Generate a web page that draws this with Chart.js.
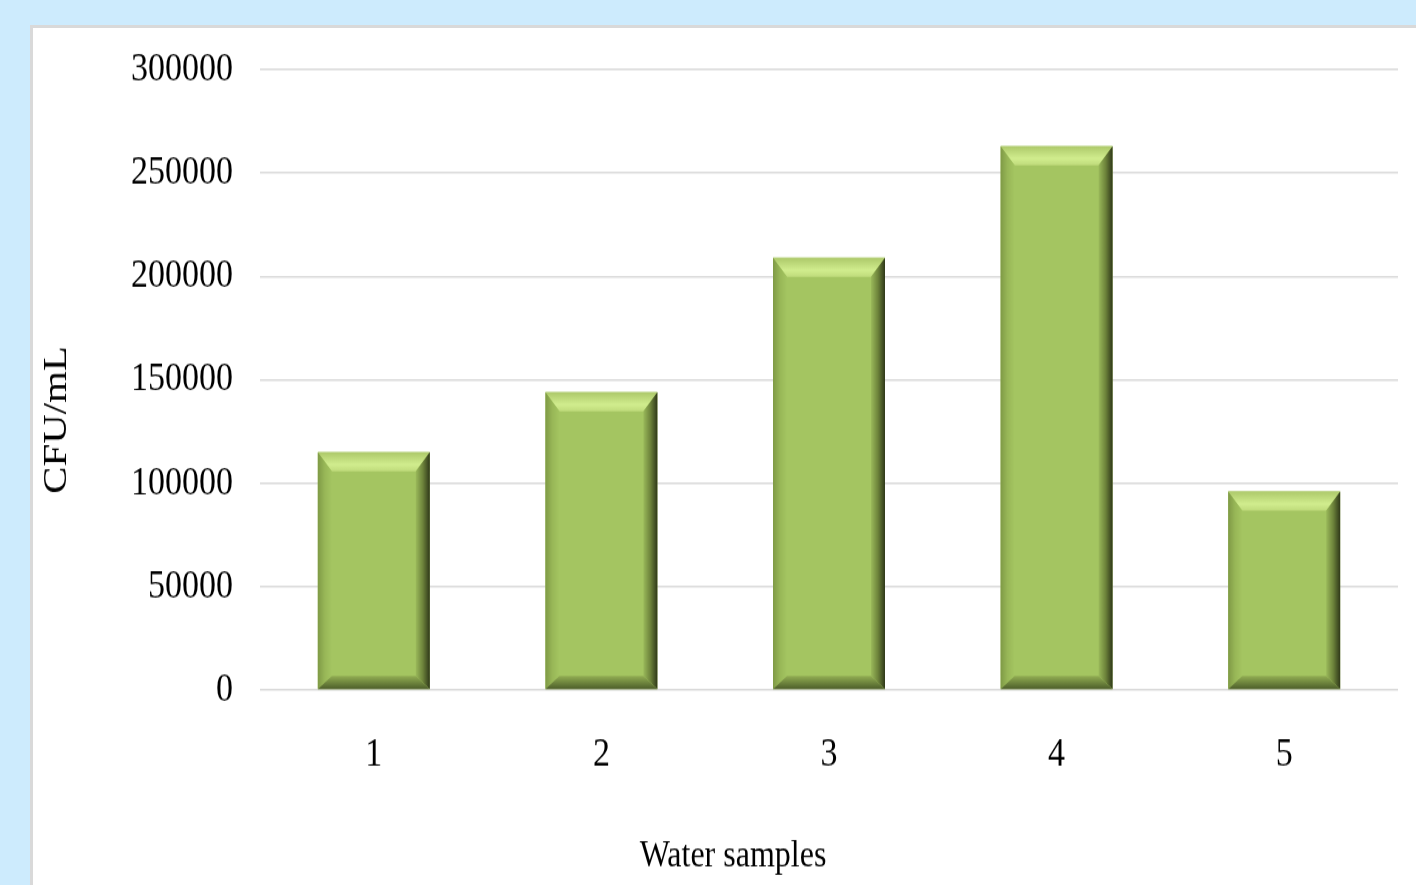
<!DOCTYPE html>
<html>
<head>
<meta charset="utf-8">
<script src="https://cdn.jsdelivr.net/npm/chart.js@4.4.1/dist/chart.umd.min.js"></script>
<style>
  html, body { margin: 0; padding: 0; }
  body {
    width: 1416px;
    height: 885px;
    overflow: hidden;
    background: #cdebfd;
    position: relative;
  }
  .panel {
    position: absolute;
    left: 30px;
    top: 25px;
    width: 1400px;
    height: 880px;
    background: #ffffff;
    border-left: 3px solid #d9d9d9;
    border-top: 3px solid #d9d9d9;
  }
  /* the reference figure is stretched vertically, so the canvas is too */
  #chart {
    position: absolute;
    left: 0;
    top: 0;
    transform-origin: 0 0;
    transform: scaleY(1.2);
  }
</style>
</head>
<body>
<div class="panel"></div>
<canvas id="chart" width="1416" height="738"></canvas>
<script>
// Data
const categories = ['1', '2', '3', '4', '5'];
const cfuValues = [115000, 144000, 209000, 263000, 96000];
const yTicks = [0, 50000, 100000, 150000, 200000, 250000, 300000];

const xTitle = 'Water samples';
const yTitle = 'CFU/mL';

const colors = {
  bar: '#a4c561',
  grid: '#d9d9d9',
  text: '#000000'
};

const FONT = '"Liberation Serif", "Times New Roman", serif';

// bevelled bars, drawn on top of the library's bar elements
const bevelPlugin = {
  id: 'bevel',
  afterDatasetsDraw(chart) {
    const ctx = chart.ctx;
    const meta = chart.getDatasetMeta(0);
    meta.data.forEach((bar) => {
      const p = bar.getProps(['x', 'y', 'base', 'width'], true);
      const l = p.x - p.width / 2;
      const r = p.x + p.width / 2;
      const t = p.y;
      const b = p.base;
      const bw = 14;   // side bevel width
      const bt = 16;   // top bevel height
      const bb = 11;   // bottom bevel height

      ctx.save();

      // top
      let g = ctx.createLinearGradient(0, t, 0, t + bt);
      g.addColorStop(0, '#adc96a');
      g.addColorStop(0.65, '#d1ed8e');
      g.addColorStop(1, '#bfdb7b');
      ctx.fillStyle = g;
      ctx.beginPath();
      ctx.moveTo(l, t); ctx.lineTo(r, t);
      ctx.lineTo(r - bw, t + bt); ctx.lineTo(l + bw, t + bt);
      ctx.closePath(); ctx.fill();

      // left
      g = ctx.createLinearGradient(l, 0, l + bw, 0);
      g.addColorStop(0, '#7f9a46');
      g.addColorStop(0.5, '#98b757');
      g.addColorStop(1, '#a4c561');
      ctx.fillStyle = g;
      ctx.beginPath();
      ctx.moveTo(l, t); ctx.lineTo(l + bw, t + bt);
      ctx.lineTo(l + bw, b - bb); ctx.lineTo(l, b);
      ctx.closePath(); ctx.fill();

      // right
      g = ctx.createLinearGradient(r - bw, 0, r, 0);
      g.addColorStop(0, '#9ab95a');
      g.addColorStop(0.5, '#6d833b');
      g.addColorStop(1, '#2f3819');
      ctx.fillStyle = g;
      ctx.beginPath();
      ctx.moveTo(r, t); ctx.lineTo(r, b);
      ctx.lineTo(r - bw, b - bb); ctx.lineTo(r - bw, t + bt);
      ctx.closePath(); ctx.fill();

      // bottom
      g = ctx.createLinearGradient(0, b - bb, 0, b);
      g.addColorStop(0, '#92ae53');
      g.addColorStop(1, '#4d5e2a');
      ctx.fillStyle = g;
      ctx.beginPath();
      ctx.moveTo(l, b); ctx.lineTo(r, b);
      ctx.lineTo(r - bw, b - bb); ctx.lineTo(l + bw, b - bb);
      ctx.closePath(); ctx.fill();

      ctx.restore();
    });
  }
};

// axis titles sit off-centre in the reference, so they are placed here
const axisTitlePlugin = {
  id: 'axisTitles',
  afterDraw(chart, args, opts) {
    const ctx = chart.ctx;
    ctx.save();
    ctx.fillStyle = colors.text;
    ctx.textAlign = 'center';
    ctx.textBaseline = 'middle';

    ctx.font = '32px ' + FONT;
    ctx.fillText(xTitle, opts.xTitleX, opts.xTitleY);

    ctx.font = '34px ' + FONT;
    ctx.translate(opts.yTitleX, opts.yTitleY);
    ctx.rotate(-Math.PI / 2);
    ctx.fillText(yTitle, 0, 0);
    ctx.restore();
  }
};

new Chart(document.getElementById('chart'), {
  type: 'bar',
  data: {
    labels: categories,
    datasets: [{
      data: cfuValues,
      backgroundColor: colors.bar,
      borderWidth: 0,
      categoryPercentage: 1,
      barPercentage: 0.492
    }]
  },
  options: {
    responsive: false,
    animation: false,
    devicePixelRatio: 1,
    layout: {
      padding: { top: 58, right: 18, bottom: 0, left: 0 }
    },
    plugins: {
      legend: { display: false },
      tooltip: { enabled: false },
      axisTitles: {
        xTitleX: 733,
        xTitleY: 714,
        yTitleX: 57,
        yTitleY: 350
      }
    },
    scales: {
      x: {
        grid: { display: false, drawTicks: false },
        border: { display: false },
        ticks: {
          color: colors.text,
          padding: 34,
          font: { family: FONT, size: 34 }
        },
        afterFit: (scale) => { scale.height = 163; }
      },
      y: {
        min: yTicks[0],
        max: yTicks[yTicks.length - 1],
        afterBuildTicks: (scale) => {
          scale.ticks = yTicks.map((v) => ({ value: v }));
        },
        grid: { color: colors.grid, lineWidth: 1.5, drawTicks: false },
        border: { display: false },
        ticks: {
          color: colors.text,
          padding: 27,
          font: { family: FONT, size: 34 },
          callback: (v) => String(v)
        },
        afterFit: (scale) => { scale.width = 260; }
      }
    }
  },
  plugins: [bevelPlugin, axisTitlePlugin]
});
</script>
</body>
</html>
